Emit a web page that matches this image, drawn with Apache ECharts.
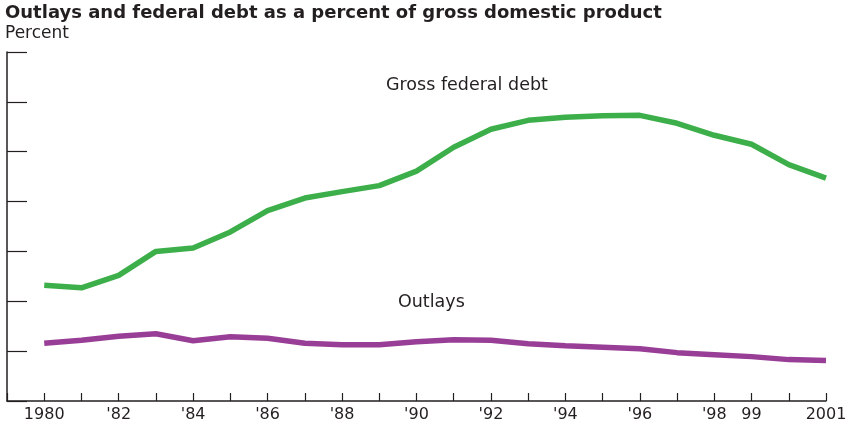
<!DOCTYPE html>
<html>
<head>
<meta charset="utf-8">
<script src="https://cdn.jsdelivr.net/npm/echarts@6/dist/echarts.min.js"></script>
<style>
html,body{margin:0;padding:0;background:#fff;}
#chart{width:857px;height:430px;}
</style>
</head>
<body>
<div id="chart"></div>
<script>
const years = [1980,1981,1982,1983,1984,1985,1986,1987,1988,1989,1990,1991,1992,1993,1994,1995,1996,1997,1998,1999,2000,2001];
const grossFederalDebt = [33.2,32.7,35.2,40.0,40.7,43.9,48.2,50.7,52.0,53.2,56.1,60.9,64.5,66.3,66.9,67.2,67.3,65.7,63.3,61.5,57.4,54.7];
const outlays = [21.6,22.2,23.0,23.5,22.1,22.9,22.6,21.6,21.3,21.3,21.9,22.3,22.2,21.5,21.1,20.8,20.5,19.7,19.3,18.9,18.3,18.1];
const tickLabels = {1980:'1980',1982:"'82",1984:"'84",1986:"'86",1988:"'88",1990:"'90",1992:"'92",1994:"'94",1996:"'96",1998:"'98",1999:'99',2001:'2001'};
const seriesNames = ['Gross federal debt','Outlays'];

const font = '"DejaVu Sans", "Noto Sans", sans-serif';
const ink = '#231f20';
const chart = echarts.init(document.getElementById('chart'), null, {renderer:'canvas'});
chart.setOption({
  animation:false,
  title:{
    text:'Outlays and federal debt as a percent of gross domestic product',
    left:5, top:4, padding:0,
    textStyle:{fontFamily:font, fontWeight:'bold', fontSize:18, color:ink}
  },
  grid:{left:7, right:31, top:52, bottom:29, containLabel:false},
  xAxis:{
    type:'value', min:1979, max:2001, interval:1,
    axisLine:{show:true, onZero:false, lineStyle:{color:ink, width:1.5}},
    axisTick:{show:true, inside:true, length:8, lineStyle:{color:ink, width:1.2}},
    splitLine:{show:false},
    axisLabel:{
      show:true, margin:6, color:ink, fontFamily:font, fontSize:16,
      formatter:function(v){ return tickLabels[v] || ''; },
      showMinLabel:true, showMaxLabel:true
    }
  },
  yAxis:{
    type:'value', min:10, max:80, interval:10,
    name:'Percent', nameLocation:'end', nameGap:10,
    nameTextStyle:{fontFamily:font, fontSize:17, color:ink, align:'left', padding:[0,0,0,-2]},
    axisLine:{show:true, lineStyle:{color:ink, width:1.5}},
    axisTick:{show:true, inside:true, length:20, lineStyle:{color:ink, width:1.2}},
    axisLabel:{show:false},
    splitLine:{show:false}
  },
  series:[
    {name:seriesNames[0], type:'line', data:years.map((y,i)=>[y,grossFederalDebt[i]]),
     showSymbol:false, lineStyle:{color:'#3daf4a', width:5.5}, itemStyle:{color:'#3daf4a'}},
    {name:seriesNames[1], type:'line', data:years.map((y,i)=>[y,outlays[i]]),
     showSymbol:false, lineStyle:{color:'#983e96', width:5.5}, itemStyle:{color:'#983e96'}}
  ],
  graphic:[
    {type:'text', left:386, top:76, style:{text:seriesNames[0], font:'17.5px '+font, fill:ink}},
    {type:'text', left:398, top:293, style:{text:seriesNames[1], font:'17.5px '+font, fill:ink}}
  ]
});
</script>
</body>
</html>
